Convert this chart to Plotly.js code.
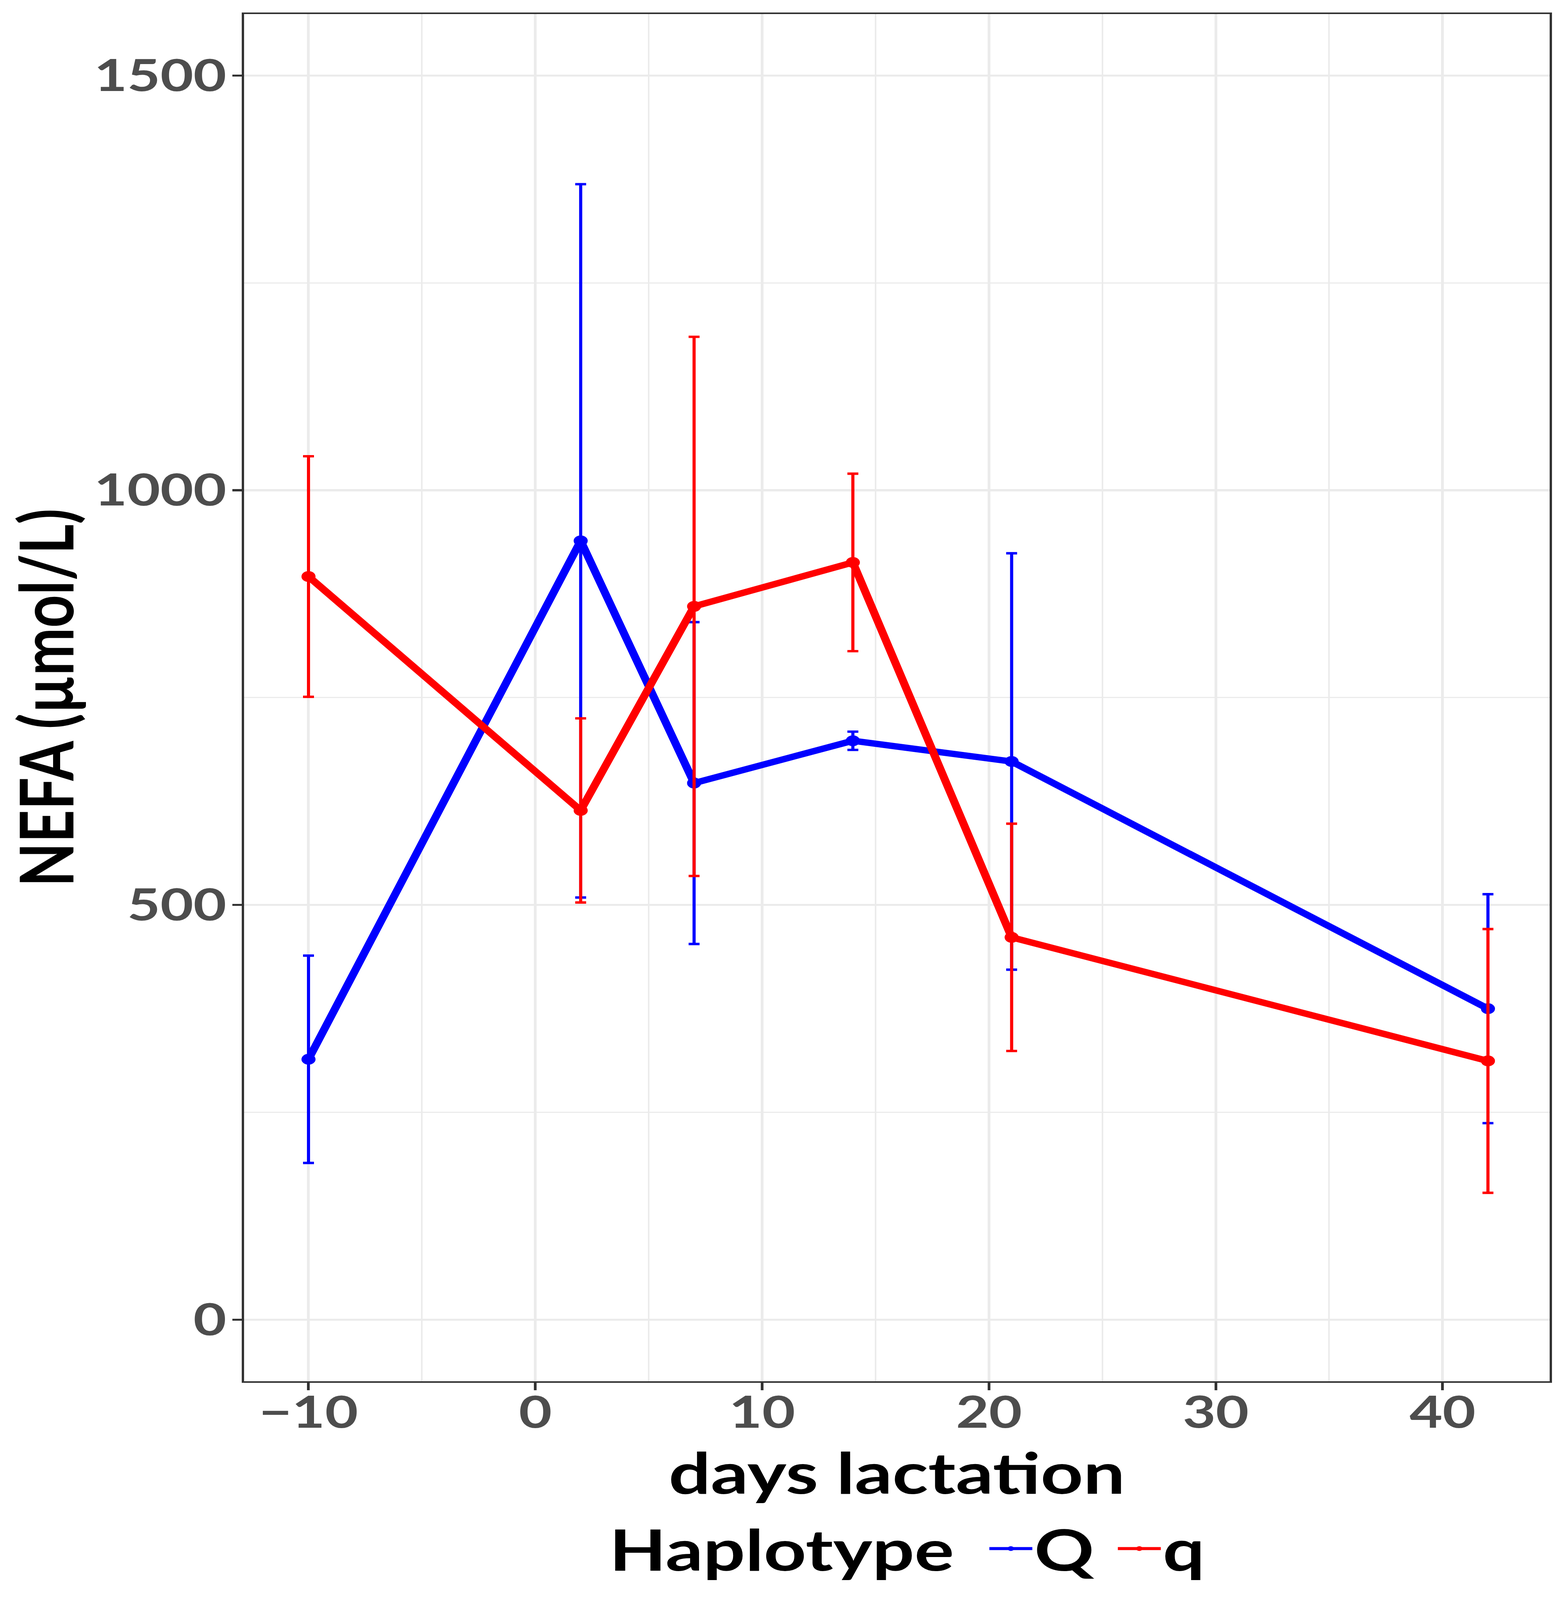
<!DOCTYPE html>
<html>
<head>
<meta charset="utf-8">
<script src="https://cdn.plot.ly/plotly-3.0.1.min.js"></script>
<style>
html,body{margin:0;padding:0;background:#fff;overflow:hidden;}
#wrap{width:4015px;height:5314px;transform-origin:0 0;}
#chart{width:4015px;height:5314px;}
</style>
</head>
<body>
<div id="wrap"><div id="chart"></div></div>
<script>
// Data
const days = [-10, 2, 7, 14, 21, 42];
const haplotypes = ["Q", "q"];
const Q_mean = [314, 939, 647, 698, 673, 375];
const Q_se   = [125, 430, 194, 11, 251, 138];
const q_mean = [896, 614, 860, 913, 461, 312];
const q_se   = [145, 111, 325, 107, 137, 159];
const yTicks = [0, 500, 1000, 1500];
const xTicks = [-10, 0, 10, 20, 30, 40];
const legendTitle = "Haplotype";

const W0 = 4015, H0 = 5314;
const colors = {Q: "#0000FF", q: "#FF0000"};
const FONT = "Lato, 'Open Sans', 'DejaVu Sans', sans-serif";
const TITLE_SIZE = 190;
const LEGEND_Y = -0.1225;

// fit the design-size chart into the visible viewport if it is smaller
(function fit() {
  const vw = window.innerWidth || W0, vh = window.innerHeight || H0;
  const sx = Math.min(1, vw / W0), sy = Math.min(1, vh / H0);
  if (sx < 1 || sy < 1) {
    document.getElementById("wrap").style.transform = "scale(" + sx + "," + sy + ")";
  }
})();

function makeTrace(name, y, se) {
  return {
    type: "scatter",
    mode: "lines+markers",
    name: name,
    x: days,
    y: y,
    line: {color: colors[name], width: 21},
    marker: {color: colors[name], size: 36},
    error_y: {type: "data", array: se, visible: true, color: colors[name], thickness: 8, width: 14}
  };
}

const data = [makeTrace(haplotypes[0], Q_mean, Q_se), makeTrace(haplotypes[1], q_mean, q_se)];

const axisCommon = {
  showline: true, mirror: true, linecolor: "#333333", linewidth: 6,
  ticks: "outside", ticklen: 24, tickwidth: 7, tickcolor: "#333333",
  showgrid: true, gridcolor: "#EBEBEB", gridwidth: 7,
  zeroline: false, automargin: false,
  tickfont: {family: FONT, size: 146, color: "#4D4D4D", weight: 700}
};

const titleFont = {family: FONT, size: TITLE_SIZE, color: "#000000", weight: 700};

const layout = {
  width: W0, height: H0,
  paper_bgcolor: "#FFFFFF", plot_bgcolor: "#FFFFFF",
  margin: {l: 625, r: 47, t: 47, b: 727},
  showlegend: true,
  xaxis: Object.assign({}, axisCommon, {
    range: [-12.84, 44.72],
    tickvals: xTicks,
    ticklabelstandoff: -50,
    minor: {dtick: 5, tick0: -5, showgrid: true, gridcolor: "#EBEBEB", gridwidth: 4, ticks: ""},
    title: {text: "days lactation", standoff: 0, font: titleFont}
  }),
  yaxis: Object.assign({}, axisCommon, {
    range: [-74, 1574],
    tickvals: yTicks,
    ticklabelstandoff: -14,
    minor: {dtick: 250, tick0: 0, showgrid: true, gridcolor: "#EBEBEB", gridwidth: 4, ticks: ""},
    title: {text: "NEFA (µmol/L)", standoff: 34, font: titleFont}
  }),
  legend: {
    orientation: "h", x: 0.5544, xanchor: "left", y: LEGEND_Y, yanchor: "middle",
    font: titleFont,
    indentation: 50, itemwidth: 110, itemsizing: "trace", tracegroupgap: 0, bgcolor: "rgba(0,0,0,0)"
  },
  annotations: [{
    text: legendTitle, xref: "paper", yref: "paper", x: 0.5444, y: LEGEND_Y,
    xanchor: "right", yanchor: "middle", showarrow: false, font: titleFont
  }]
};

Plotly.newPlot("chart", data, layout, {displayModeBar: false, staticPlot: true});
</script>
</body>
</html>
